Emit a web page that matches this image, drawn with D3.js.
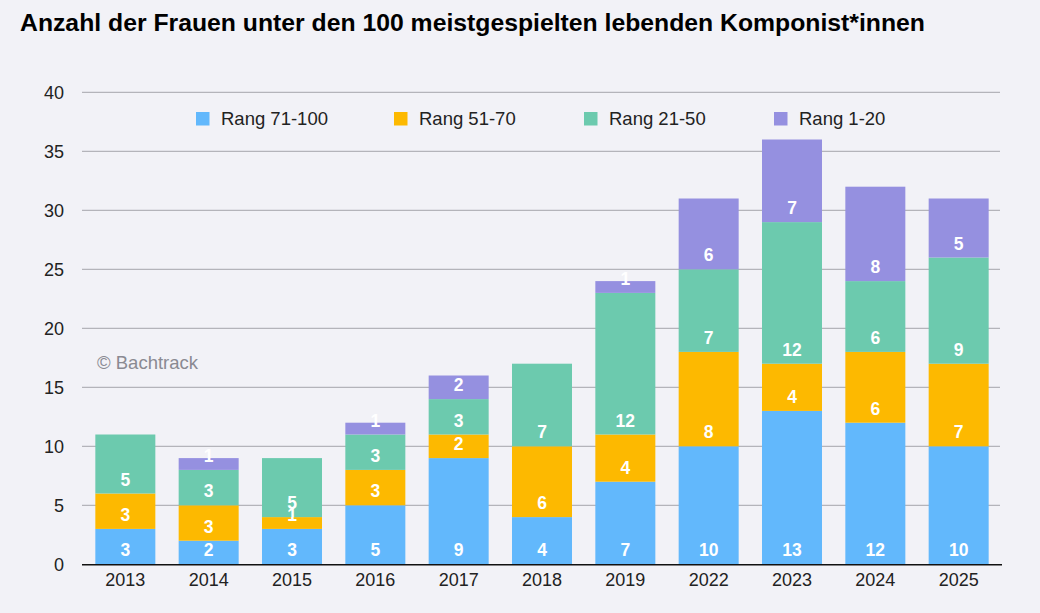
<!DOCTYPE html>
<html><head><meta charset="utf-8">
<script src="https://cdn.jsdelivr.net/npm/d3@7"></script>
<style>
html,body{margin:0;padding:0;background:#f2f2f7;}
svg{display:block;font-family:"Liberation Sans",Arial,Helvetica,sans-serif;}
</style></head>
<body>
<svg id="chart" width="1040" height="613"></svg>
<script>
const title = "Anzahl der Frauen unter den 100 meistgespielten lebenden Komponist*innen";
const years = ["2013","2014","2015","2016","2017","2018","2019","2022","2023","2024","2025"];
const seriesNames = ["Rang 71-100","Rang 51-70","Rang 21-50","Rang 1-20"];
const rang71_100 = [3,2,3,5,9,4,7,10,13,12,10];
const rang51_70  = [3,3,1,3,2,6,4,8,4,6,7];
const rang21_50  = [5,3,5,3,3,7,12,7,12,6,9];
const rang1_20   = [0,1,0,1,2,0,1,6,7,8,5];
const yTicks = [0,5,10,15,20,25,30,35,40];
const colors = ["#62b8fc","#fdb900","#6ccaae","#9590e0"];

const seriesValues = [rang71_100, rang51_70, rang21_50, rang1_20];
const keys = seriesNames;
const table = years.map((y,i)=>{ const o={year:y}; keys.forEach((k,j)=>o[k]=seriesValues[j][i]); return o; });
const stacked = d3.stack().keys(keys)(table);

const svg = d3.select("#chart");
const x = d3.scaleBand().domain(years).range([82,1002]).paddingInner(0.28).paddingOuter(0.16);
const y = d3.scaleLinear().domain([0,40]).range([564.3,92.3]);

// title
svg.append("text").attr("x",20).attr("y",31)
  .attr("font-size",23).attr("font-weight","bold").attr("fill","#000")
  .attr("textLength",905).attr("lengthAdjust","spacingAndGlyphs")
  .text(title);

// grid
svg.append("g").selectAll("line").data(yTicks.filter(d=>d>0)).join("line")
  .attr("x1",82).attr("x2",1000)
  .attr("y1",d=>y(d)).attr("y2",d=>y(d))
  .attr("stroke","#b4b4ba").attr("stroke-width",1.3);

// y tick labels
svg.append("g").selectAll("text").data(yTicks).join("text")
  .attr("x",64).attr("y",d=>y(d)).attr("dy","0.35em")
  .attr("text-anchor","end").attr("font-size",18).attr("fill","#222")
  .text(d=>d);

// watermark
svg.append("text").attr("x",97).attr("y",369).attr("font-size",18.5).attr("fill","#8a8a92").text("© Bachtrack");

// bars
const g = svg.append("g");
stacked.forEach((s,si)=>{
  g.append("g").selectAll("rect").data(s.filter(d=>d[1]-d[0]>0)).join("rect")
    .attr("x",d=>x(d.data.year)).attr("width",x.bandwidth())
    .attr("y",d=>y(d[1])).attr("height",d=>y(d[0])-y(d[1]))
    .attr("fill",colors[si]);
});
// labels
stacked.forEach((s,si)=>{
  g.append("g").selectAll("text").data(s.filter(d=>d[1]-d[0]>0)).join("text")
    .attr("x",d=>x(d.data.year)+x.bandwidth()/2).attr("y",d=>y(d[0])-14).attr("dy","0.35em")
    .attr("text-anchor","middle").attr("font-size",17.5).attr("font-weight","bold").attr("fill","#fff")
    .text(d=>d[1]-d[0]);
});

// x axis line
svg.append("line").attr("x1",82).attr("x2",1002).attr("y1",y(0)+0.5).attr("y2",y(0)+0.5)
  .attr("stroke","#111").attr("stroke-width",1.5);
svg.append("g").selectAll("text").data(years).join("text")
  .attr("x",d=>x(d)+x.bandwidth()/2).attr("y",580).attr("dy","0.35em")
  .attr("text-anchor","middle").attr("font-size",18).attr("fill","#222").text(d=>d);

// legend
const leg = svg.append("g");
const legX = [196,394,584,774];
seriesNames.forEach((n,i)=>{
  leg.append("rect").attr("x",legX[i]).attr("y",112).attr("width",13.5).attr("height",13.5).attr("fill",colors[i]);
  leg.append("text").attr("x",legX[i]+25).attr("y",119).attr("dy","0.35em")
    .attr("font-size",18.5).attr("fill","#222").text(n);
});
</script>
</body></html>
